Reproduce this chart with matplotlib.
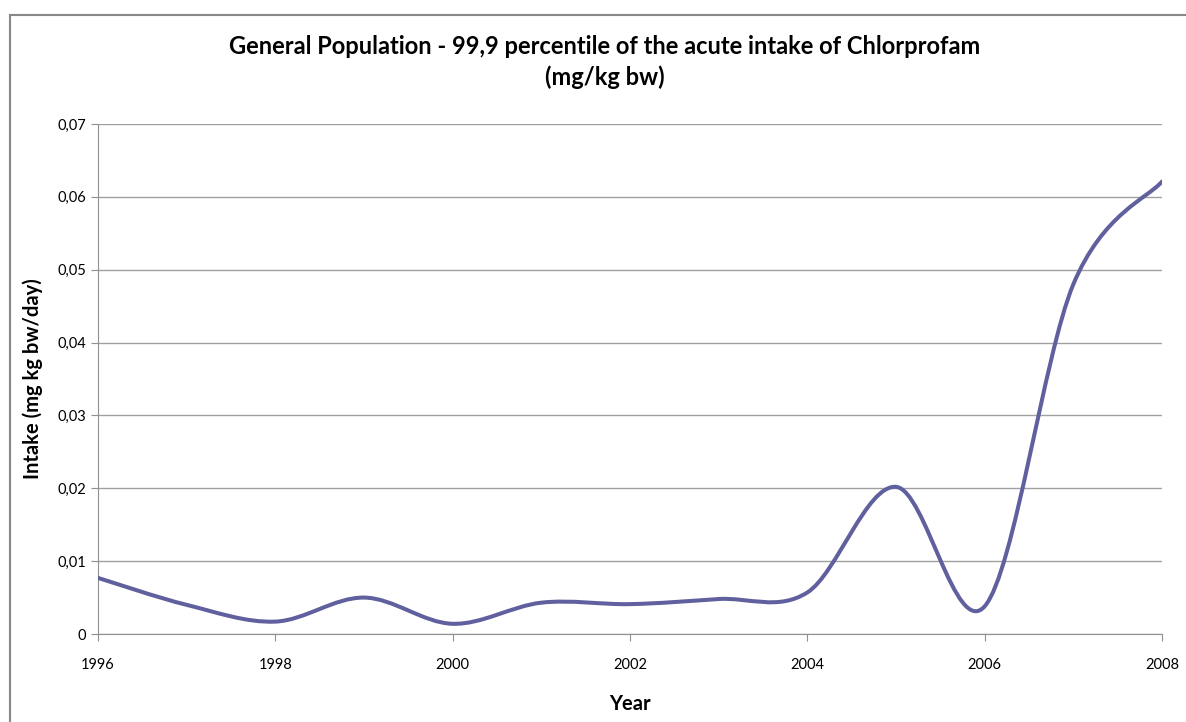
import matplotlib
matplotlib.use('Agg')
import matplotlib.pyplot as plt
from matplotlib.path import Path
from matplotlib.patches import PathPatch, Rectangle
from matplotlib.ticker import FuncFormatter

years = [1996, 1997, 1998, 1999, 2000, 2001, 2002, 2003, 2004, 2005, 2006, 2007, 2008]
intake = [0.0077, 0.0040, 0.0017, 0.0050, 0.0014, 0.0043, 0.0041, 0.0048, 0.0057,
          0.0202, 0.0038, 0.0480, 0.0621]

title = 'General Population - 99,9 percentile of the acute intake of Chlorprofam\n(mg/kg bw)'
xlabel = 'Year'
ylabel = 'Intake (mg kg bw/day)'

plt.rcParams['font.family'] = ['Lato', 'DejaVu Sans']

fig = plt.figure(figsize=(11.86, 7.22), dpi=100)
ax = fig.add_axes([98 / 1186, 1 - 634 / 722, (1162 - 98) / 1186, (634 - 124) / 722])

# smoothed line like Excel: cubic bezier segments through each point
verts = [(years[0], intake[0])]
codes = [Path.MOVETO]
n = len(years)
for i in range(n - 1):
    p0 = (years[max(i - 1, 0)], intake[max(i - 1, 0)])
    p1 = (years[i], intake[i])
    p2 = (years[i + 1], intake[i + 1])
    p3 = (years[min(i + 2, n - 1)], intake[min(i + 2, n - 1)])
    c1 = (p1[0] + (p2[0] - p0[0]) / 6, p1[1] + (p2[1] - p0[1]) / 6)
    c2 = (p2[0] - (p3[0] - p1[0]) / 6, p2[1] - (p3[1] - p1[1]) / 6)
    verts += [c1, c2, p2]
    codes += [Path.CURVE4] * 3
ax.add_patch(PathPatch(Path(verts, codes), fill=False, edgecolor='#60609e',
                       linewidth=2.9, capstyle='round', joinstyle='round', zorder=3))

ax.set_xlim(1996, 2008)
ax.set_ylim(0, 0.07)
ax.set_xticks(range(1996, 2009, 2))
ax.set_yticks([i / 100 for i in range(8)])
ax.yaxis.set_major_formatter(FuncFormatter(lambda v, p: '0' if v == 0 else f'{v:.2f}'.replace('.', ',')))
ax.grid(axis='y', color='#a0a0a0', linewidth=1.0)
ax.set_axisbelow(True)
for s in ['top', 'right']:
    ax.spines[s].set_visible(False)
for s in ['left', 'bottom']:
    ax.spines[s].set_color('#909090')
ax.tick_params(axis='both', colors='#909090', labelcolor='black', labelsize=10.5, length=5)
ax.tick_params(axis='x', pad=12)

ax.set_title(title, fontsize=17, fontweight='bold', pad=28, linespacing=1.4, x=0.4765)
ax.set_xlabel(xlabel, fontsize=14.5, fontweight='bold', labelpad=16)
ax.set_ylabel(ylabel, fontsize=14.5, fontweight='bold', labelpad=10)

fig.patches.append(Rectangle((10 / 1186, -0.05), 1.1, 1 - 15 / 722 + 0.05,
                             transform=fig.transFigure, fill=False,
                             edgecolor='#888888', linewidth=1.5))

fig.savefig('out.png', dpi=100)
